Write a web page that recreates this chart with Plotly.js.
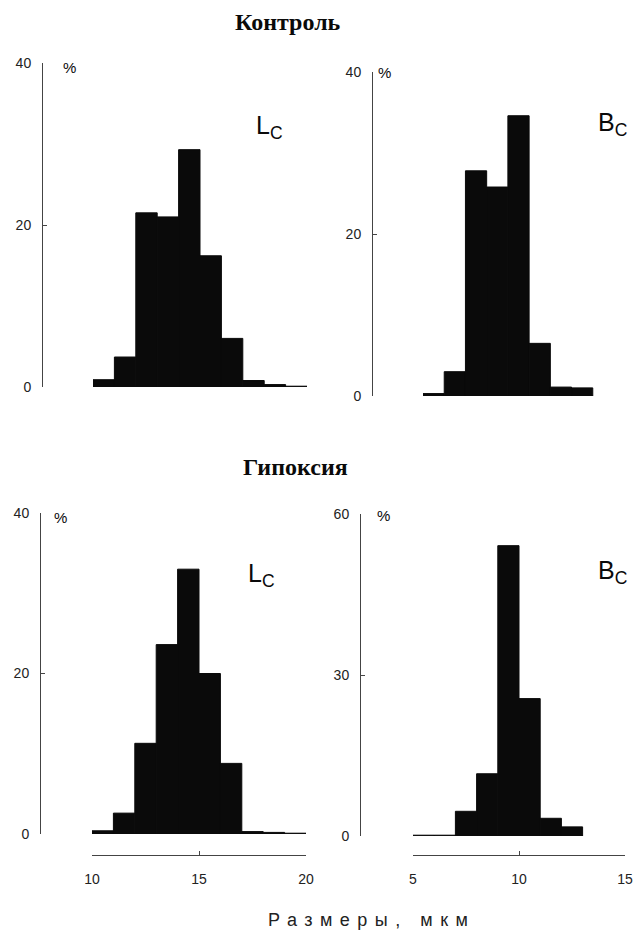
<!DOCTYPE html>
<html>
<head>
<meta charset="utf-8">
<script src="https://cdn.plot.ly/plotly-3.0.1.min.js"></script>
<style>
  html, body { margin: 0; padding: 0; background: #fff; }
  #chart { width: 634px; height: 931px; }
  .annotation[data-index="0"] text { letter-spacing: 7.5px; }
</style>
</head>
<body>
<div id="chart"></div>
<script>
// ---- data ----
const lcBinStart = [10, 11, 12, 13, 14, 15, 16, 17, 18, 19];   // μm, bin width 1
const bcBinStart = [5, 6, 7, 8, 9, 10, 11, 12];                // μm, bin width 1
const lcControl = [0.9, 3.7, 21.5, 21.0, 29.3, 16.2, 6.0, 0.8, 0.3, 0.1];   // %
const bcControl = [0.3, 3.0, 27.8, 25.8, 34.6, 6.5, 1.1, 1.0];             // %
const lcHypoxia = [0.4, 2.6, 11.3, 23.6, 33.0, 20.0, 8.8, 0.3, 0.2, 0.1];   // %
const bcHypoxia = [0.15, 0.15, 4.6, 11.6, 54.1, 25.6, 3.3, 1.7];           // %
const lcTicks = [10, 15, 20];
const bcTicks = [5, 10, 15];
const yTicks40 = [0, 20, 40];
const yTicks60 = [0, 30, 60];
const titleTop = 'Контроль';
const titleBottom = 'Гипоксия';
const xTitle = 'Размеры, мкм';

// ---- helpers: pixel -> paper ----
const W = 634, H = 931;
const px = v => v / W;
const py = v => 1 - v / H;

const INK = '#0a0a0a';
const AX = '#444';
const sans = 'Liberation Sans, Arial, sans-serif';
const serif = 'Liberation Serif, Times New Roman, serif';

function barTrace(x, y, xa, ya) {
  return {
    type: 'bar', x: x, y: y, xaxis: xa, yaxis: ya,
    width: 1, offset: 0,
    marker: { color: INK, line: { color: INK, width: 1 } },
    hoverinfo: 'x+y'
  };
}

const data = [
  barTrace(lcBinStart, lcControl, 'x', 'y'),
  barTrace(bcBinStart, bcControl, 'x2', 'y2'),
  barTrace(lcBinStart, lcHypoxia, 'x3', 'y3'),
  barTrace(bcBinStart, bcHypoxia, 'x4', 'y4')
];

function yAx(domain, range, ticks, pos) {
  return {
    domain: domain, range: range, anchor: 'free', position: pos,
    showline: true, linecolor: AX, linewidth: 1,
    ticks: 'inside', ticklen: 4, tickcolor: AX, tickwidth: 1,
    tickvals: ticks, ticktext: ticks.map(String),
    tickfont: { family: sans, size: 14, color: '#222' },
    ticklabelstandoff: 8,
    showgrid: false, zeroline: false, fixedrange: true
  };
}
function xHidden(domain, range, ya) {
  return { domain: domain, range: range, anchor: ya, visible: false, fixedrange: true };
}
function xAx(domain, range, ticks, pos) {
  return {
    domain: domain, range: range, anchor: 'free', position: pos,
    showline: true, linecolor: AX, linewidth: 1,
    ticks: 'inside', ticklen: 4, tickcolor: AX, tickwidth: 1,
    tickvals: ticks, ticktext: ticks.map(String),
    tickfont: { family: sans, size: 14, color: '#222' },
    ticklabelstandoff: 11,
    showgrid: false, zeroline: false, fixedrange: true
  };
}

function ann(text, x, y, size, opts) {
  return Object.assign({
    text: text, xref: 'paper', yref: 'paper', x: px(x), y: py(y),
    xanchor: 'center', yanchor: 'middle', showarrow: false,
    font: { family: sans, size: size, color: INK }
  }, opts || {});
}

const layout = {
  width: W, height: H,
  margin: { l: 0, r: 0, t: 0, b: 0 },
  paper_bgcolor: '#fff', plot_bgcolor: 'rgba(0,0,0,0)',
  showlegend: false, bargap: 0,
  xaxis: xHidden([px(93), px(307)], [10, 20], 'y'),
  yaxis: yAx([py(387), py(63)], [0, 40], yTicks40, px(42)),
  xaxis2: xHidden([px(423), px(614)], [5, 14], 'y2'),
  yaxis2: yAx([py(396), py(72)], [0, 40], yTicks40, px(372)),
  xaxis3: xAx([px(92), px(306)], [10, 20], lcTicks, py(855)),
  yaxis3: yAx([py(834), py(513)], [0, 40], yTicks40, px(40)),
  xaxis4: xAx([px(413), px(625)], [5, 15], bcTicks, py(855)),
  yaxis4: yAx([py(836), py(514)], [0, 60], yTicks60, px(360)),
  annotations: [
    ann(xTitle, 371, 920, 18, { font: { family: sans, size: 18, color: '#222' } }),
    ann(titleTop, 288, 22, 24, { font: { family: serif, size: 24, color: INK, weight: 'bold' } }),
    ann(titleBottom, 295, 467, 24, { font: { family: serif, size: 24, color: INK, weight: 'bold' } }),
    ann('%', 69, 68, 15),
    ann('%', 384, 72, 15),
    ann('%', 60, 517, 15),
    ann('%', 383, 515, 15),
    ann('L<sub>C</sub>', 269, 127, 25),
    ann('B<sub>C</sub>', 612, 124, 25),
    ann('L<sub>C</sub>', 261, 575, 25),
    ann('B<sub>C</sub>', 612, 572, 25)
  ]
};

Plotly.newPlot('chart', data, layout, { displayModeBar: false, staticPlot: true });
</script>
</body>
</html>
